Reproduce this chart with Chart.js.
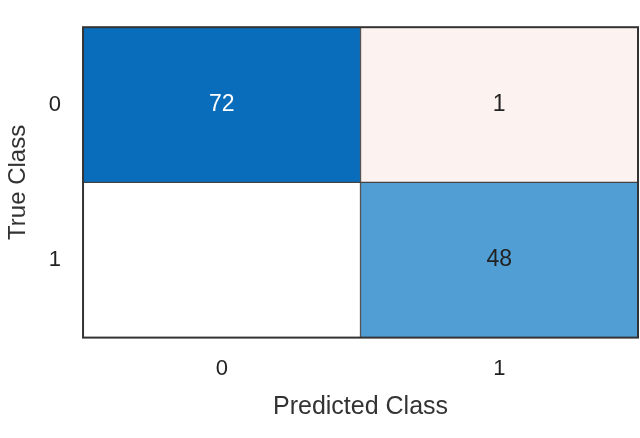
<!DOCTYPE html>
<html>
<head>
<meta charset="utf-8">
<script src="https://cdn.jsdelivr.net/npm/chart.js@4"></script>
<style>
  html, body { margin: 0; padding: 0; background: #fff; }
  #wrap { width: 640px; height: 438px; }
</style>
</head>
<body>
<div id="wrap"><canvas id="cm"></canvas></div>
<script>
// confusion matrix values
const predictedClasses = ['0', '1'];
const trueClasses = ['0', '1'];
const countsRow0 = [72, 1];   // true class 0
const countsRow1 = [null, 48]; // true class 1 (0 shown blank)
const colorsRow0 = ['#0a6dbb', '#fcf2ef'];
const colorsRow1 = ['#ffffff', '#509ed4'];
const textRow0 = ['#ffffff', '#222222'];
const textRow1 = ['#222222', '#222222'];

// numbers inside the cells
const cellText = {
  id: 'cellText',
  afterDatasetsDraw(chart) {
    const ctx = chart.ctx;
    const x = chart.scales.x, y = chart.scales.y;
    const rows = [countsRow0, countsRow1];
    const cols = [textRow0, textRow1];
    ctx.save();
    ctx.font = '23px "Liberation Sans", Arial, sans-serif';
    ctx.textAlign = 'center';
    ctx.textBaseline = 'middle';
    rows.forEach((row, r) => {
      row.forEach((v, c) => {
        if (v === null) return;
        ctx.fillStyle = cols[r][c];
        ctx.fillText(String(v), x.getPixelForValue(c), y.getPixelForValue(r + 0.5));
      });
    });
    // outer frame
    const a = chart.chartArea;
    ctx.strokeStyle = '#333';
    ctx.lineWidth = 2;
    ctx.strokeRect(a.left, a.top, a.right - a.left, a.bottom - a.top);
    ctx.restore();
  }
};

new Chart(document.getElementById('cm'), {
  type: 'bar',
  data: {
    labels: predictedClasses,
    datasets: [
      {
        data: predictedClasses.map(() => [0, 1]),
        backgroundColor: colorsRow0,
        borderColor: '#444',
        borderWidth: 1,
        borderSkipped: false,
        grouped: false,
        barPercentage: 1,
        categoryPercentage: 1
      },
      {
        data: predictedClasses.map(() => [1, 2]),
        backgroundColor: colorsRow1,
        borderColor: '#444',
        borderWidth: 1,
        borderSkipped: false,
        grouped: false,
        barPercentage: 1,
        categoryPercentage: 1
      }
    ]
  },
  options: {
    responsive: true,
    maintainAspectRatio: false,
    animation: false,
    layout: { padding: { top: -26, right: 2, bottom: 12, left: 0 } },
    plugins: { legend: { display: false }, tooltip: { enabled: false } },
    scales: {
      x: {
        grid: { display: false },
        border: { display: false },
        ticks: { color: '#222', font: { size: 22, family: '"Liberation Sans", Arial' }, padding: 10 },
        title: { display: true, text: 'Predicted Class', color: '#333', font: { size: 25, family: '"Liberation Sans", Arial' }, padding: { top: 0 } }
      },
      y: {
        min: 0, max: 2, reverse: true,
        grid: { display: false },
        border: { display: false },
        afterBuildTicks: s => { s.ticks = [{ value: 0.5 }, { value: 1.5 }]; },
        ticks: {
          color: '#222', font: { size: 22, family: '"Liberation Sans", Arial' }, padding: 14,
          callback: v => trueClasses[Math.floor(v)]
        },
        title: { display: true, text: 'True Class', color: '#333', font: { size: 24, family: '"Liberation Sans", Arial' }, padding: { bottom: 2 } }
      }
    }
  },
  plugins: [cellText]
});
</script>
</body>
</html>
